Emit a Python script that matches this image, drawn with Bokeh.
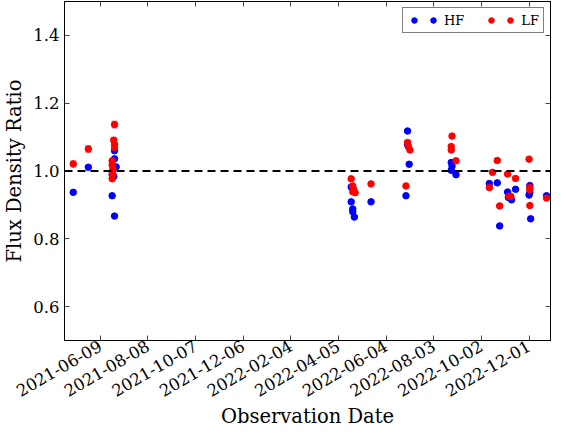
import math
import pandas as pd
from bokeh.plotting import figure
from bokeh.models import (ColumnDataSource, Whisker, Span, FixedTicker, DatetimeTickFormatter,
                          LinearAxis, DatetimeAxis, Legend, LegendItem, TeeHead, Range1d,
                          PrintfTickFormatter)
from bokeh.core.properties import value
from bokeh.embed import file_html
from bokeh.resources import INLINE

# ---- data ----
hf_dates = ["2021-05-06", "2021-05-25", "2021-06-27", "2021-06-27", "2021-06-29", "2021-06-24",
            "2021-06-26", "2021-06-24", "2021-06-27",
            "2022-04-21", "2022-04-21", "2022-04-23", "2022-04-23", "2022-04-25", "2022-05-16",
            "2022-07-01", "2022-07-01", "2022-07-03", "2022-06-29",
            "2022-08-25", "2022-08-26", "2022-08-25", "2022-08-31",
            "2022-10-12", "2022-10-22", "2022-10-25", "2022-11-04", "2022-11-05", "2022-11-09",
            "2022-11-14", "2022-12-02", "2022-12-02", "2022-12-01", "2022-12-03", "2022-12-23"]
hf_ratio = [0.937, 1.011, 1.060, 1.036, 1.012, 0.990,
            0.984, 0.927, 0.867,
            0.953, 0.909, 0.888, 0.880, 0.864, 0.909,
            1.118, 1.078, 1.020, 0.927,
            1.025, 1.014, 1.002, 0.989,
            0.963, 0.965, 0.838, 0.938, 0.922, 0.915,
            0.946, 0.957, 0.936, 0.929, 0.859, 0.927]
hf_err = [0.003] * len(hf_ratio)

lf_dates = ["2021-05-06", "2021-05-25", "2021-06-27", "2021-06-26", "2021-06-27", "2021-06-27",
            "2021-06-24", "2021-06-24", "2021-06-25", "2021-06-24", "2021-06-25", "2021-06-24",
            "2022-04-21", "2022-04-23", "2022-04-24", "2022-04-23", "2022-04-26", "2022-05-16",
            "2022-07-01", "2022-07-02", "2022-07-04", "2022-06-29",
            "2022-08-26", "2022-08-25", "2022-08-25", "2022-08-31",
            "2022-10-12", "2022-10-16", "2022-10-22", "2022-10-25", "2022-11-04", "2022-11-06",
            "2022-11-08", "2022-11-14", "2022-12-01", "2022-12-02", "2022-12-02", "2022-12-02",
            "2022-12-23"]
lf_ratio = [1.021, 1.065, 1.137, 1.091, 1.079, 1.069,
            1.030, 1.018, 1.008, 0.998, 0.990, 0.977,
            0.977, 0.956, 0.946, 0.939, 0.936, 0.962,
            1.084, 1.072, 1.062, 0.956,
            1.103, 1.072, 1.062, 1.030,
            0.951, 0.996, 1.031, 0.897, 0.991, 0.925,
            0.925, 0.978, 1.035, 0.951, 0.945, 0.898,
            0.920]
lf_err = [0.009, 0.010, 0.010, 0.006, 0.005, 0.005,
          0.005, 0.005, 0.005, 0.005, 0.005, 0.005,
          0.004, 0.004, 0.004, 0.004, 0.004, 0.004,
          0.005, 0.005, 0.005, 0.004,
          0.005, 0.005, 0.005, 0.004,
          0.004, 0.004, 0.004, 0.004, 0.004, 0.004,
          0.004, 0.004, 0.004, 0.004, 0.004, 0.004,
          0.004]

x_tick_dates = ["2021-06-09", "2021-08-08", "2021-10-07", "2021-12-06", "2022-02-04",
                "2022-04-05", "2022-06-04", "2022-08-03", "2022-10-02", "2022-12-01"]
y_ticks = [0.6, 0.8, 1.0, 1.2, 1.4]
x_limits = ["2021-04-25", "2022-12-28"]
y_limits = [0.5, 1.5]
reference_level = 1.0

FONT = "DejaVu Serif"


def ms(d):
    return pd.Timestamp(d).value / 1e6


def make_source(dates, ratio, err):
    return ColumnDataSource(dict(
        date=pd.to_datetime(dates),
        ratio=ratio,
        lower=[r - e for r, e in zip(ratio, err)],
        upper=[r + e for r, e in zip(ratio, err)],
    ))


hf_src = make_source(hf_dates, hf_ratio, hf_err)
lf_src = make_source(lf_dates, lf_ratio, lf_err)

p = figure(width=551, height=431, x_axis_type="datetime", output_backend="svg",
           toolbar_location=None,
           x_range=Range1d(ms(x_limits[0]), ms(x_limits[1])),
           y_range=Range1d(*y_limits),
           min_border_left=0, min_border_right=1, min_border_top=1, min_border_bottom=0,
           x_axis_label="Observation Date", y_axis_label="Flux Density Ratio")
p.grid.visible = False
p.outline_line_color = "black"
p.outline_line_width = 1
p.background_fill_color = "white"
p.border_fill_color = "white"

x_ticker = FixedTicker(ticks=[ms(d) for d in x_tick_dates])
y_ticker = FixedTicker(ticks=y_ticks)
fmt = "%Y-%m-%d"
x_fmt = DatetimeTickFormatter(days=fmt, months=fmt, years=fmt, hours=fmt, minutes=fmt)

for ax in (p.xaxis[0], p.yaxis[0]):
    ax.major_label_text_font = FONT
    ax.major_label_text_font_size = "16.5px"
    ax.major_label_text_color = "black"
    ax.axis_label_text_font = FONT
    ax.axis_label_text_font_size = "19.5px"
    ax.axis_label_text_font_style = "normal"
    ax.axis_label_text_color = "black"
    ax.major_tick_in = 5
    ax.major_tick_out = 0
    ax.minor_tick_line_color = None
    ax.major_tick_line_color = "#444444"
    ax.axis_line_color = "black"
    ax.major_label_standoff = 5

p.xaxis[0].ticker = x_ticker
p.xaxis[0].formatter = x_fmt
p.xaxis[0].major_label_orientation = math.pi / 6
p.xaxis[0].axis_label_standoff = 0
p.xaxis[0].major_label_standoff = 4
p.yaxis[0].ticker = y_ticker
p.yaxis[0].formatter = PrintfTickFormatter(format="%.1f")
p.yaxis[0].axis_label_standoff = 4

top = DatetimeAxis(ticker=x_ticker, formatter=x_fmt, major_label_text_font_size="1px",
                   major_label_text_color=None,
                   major_label_standoff=0, major_tick_in=5, major_tick_out=0,
                   minor_tick_line_color=None, major_tick_line_color="#444444",
                   axis_line_color="black")
right = LinearAxis(ticker=y_ticker, major_label_text_font_size="1px",
                   major_label_text_color=None,
                   major_label_standoff=0, major_tick_in=5, major_tick_out=0,
                   minor_tick_line_color=None, major_tick_line_color="#444444",
                   axis_line_color="black")
p.add_layout(top, "above")
p.add_layout(right, "right")

p.add_layout(Span(location=reference_level, dimension="width", line_color="black",
                  line_dash="8 5", line_width=2))

for src, col in ((hf_src, "#0000ff"), (lf_src, "#ff0000")):
    p.add_layout(Whisker(source=src, base="date", lower="lower", upper="upper",
                         dimension="height", line_color=col, line_alpha=0.5, line_width=1,
                         upper_head=TeeHead(size=6, line_color=col, line_alpha=0.5),
                         lower_head=TeeHead(size=6, line_color=col, line_alpha=0.5)))

hf_r = p.scatter("date", "ratio", source=hf_src, size=6.5, color="#0000ff")
lf_r = p.scatter("date", "ratio", source=lf_src, size=6.5, color="#ff0000")
blank_r = p.scatter(x=[], y=[], size=6.5, fill_alpha=0, line_alpha=0)

legend = Legend(items=[
    LegendItem(label=value(""), renderers=[hf_r]),
    LegendItem(label=value("HF"), renderers=[hf_r]),
    LegendItem(label=value(""), renderers=[blank_r]),
    LegendItem(label=value(""), renderers=[lf_r]),
    LegendItem(label=value("LF"), renderers=[lf_r]),
], orientation="horizontal", location="top_right")
legend.label_text_font = FONT
legend.label_text_font_size = "13px"
legend.label_text_color = "black"
legend.glyph_width = 14
legend.glyph_height = 16
legend.label_standoff = 4
legend.label_width = 0
legend.label_height = 16
legend.spacing = 1
legend.padding = 4
legend.margin = 6
legend.border_line_color = "black"
legend.border_line_width = 1
legend.background_fill_color = "white"
legend.background_fill_alpha = 1
p.add_layout(legend)

open("out.html", "w").write(file_html(p, INLINE))
